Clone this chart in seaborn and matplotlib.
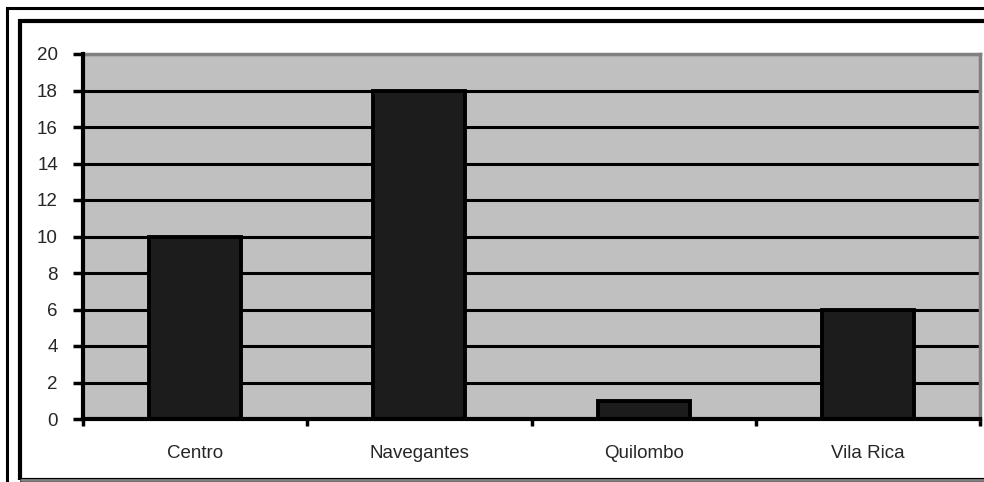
import matplotlib
matplotlib.use("Agg")
import matplotlib.pyplot as plt
import seaborn as sns
import pandas as pd
from matplotlib.patches import Rectangle

# valeurs
bairros = ["Centro", "Navegantes", "Quilombo", "Vila Rica"]
valores = [10, 18, 1, 6]
y_ticks = list(range(0, 21, 2))

df = pd.DataFrame({"bairro": bairros, "valor": valores})

sns.set_style("white")
plt.rcParams["font.family"] = ["Liberation Sans", "DejaVu Sans"]

fig = plt.figure(figsize=(9.84, 4.82), dpi=100)

# cadres autour du graphique (style Excel)
fig.patches.append(Rectangle((7 / 984, -0.1), 1.2, (482 - 8) / 482 + 0.1,
                             transform=fig.transFigure, fill=False,
                             edgecolor="black", lw=2.2, zorder=0))
fig.patches.append(Rectangle((20 / 984, 2 / 482), 1.2, (482 - 21 - 2) / 482,
                             transform=fig.transFigure, fill=False,
                             edgecolor="black", lw=3, zorder=0))
fig.lines.append(plt.Line2D([21 / 984, 1], [2 / 482, 2 / 482],
                            transform=fig.transFigure, color="#808080", lw=2))

ax = fig.add_axes([83 / 984, 63 / 482, (980 - 83) / 984, (419 - 54) / 482])
ax.set_facecolor("#c0c0c0")

sns.barplot(data=df, x="bairro", y="valor", order=bairros, color="#1c1c1c",
            width=0.41, edgecolor="black", linewidth=2.8, saturation=1,
            ax=ax, zorder=3)

ax.set_ylim(0, 20)
ax.set_xlim(-0.5, len(bairros) - 0.5)
ax.set_yticks(y_ticks)
ax.yaxis.grid(True, color="black", lw=2.2)
ax.set_axisbelow(True)
ax.set_xlabel("")
ax.set_ylabel("")

for s in ["left", "bottom"]:
    ax.spines[s].set_color("black")
    ax.spines[s].set_linewidth(3)
    ax.spines[s].set_zorder(5)
for s in ["top", "right"]:
    ax.spines[s].set_color("#808080")
    ax.spines[s].set_linewidth(2.5)

ax.tick_params(axis="y", which="major", left=True, length=7, width=2.5,
               color="black", pad=11, labelsize=13.5)
ax.tick_params(axis="x", which="major", bottom=False, length=0, pad=19,
               labelsize=13.5)
ax.set_xticks([i - 0.5 for i in range(len(bairros) + 1)], minor=True)
ax.tick_params(axis="x", which="minor", bottom=True, length=5, width=2.5,
               color="black")

plt.savefig("out.png", dpi=100)
